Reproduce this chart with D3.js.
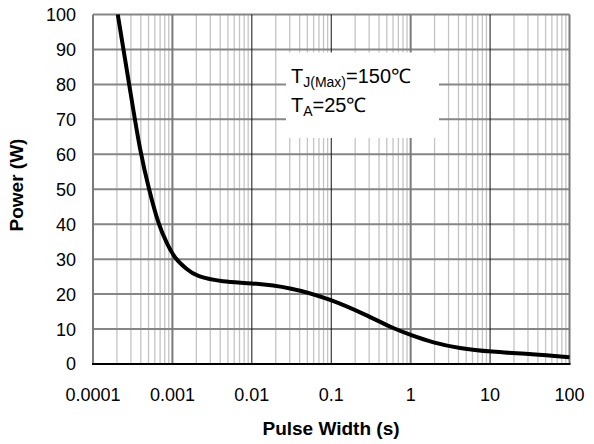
<!DOCTYPE html>
<html><head><meta charset="utf-8">
<script src="https://cdn.jsdelivr.net/npm/d3@7/dist/d3.min.js"></script>
<style>body{margin:0;background:#fff}svg{display:block}text{font-family:"Liberation Sans",Arial,sans-serif}</style>
</head><body><svg id="c" width="594" height="444"></svg>
<script>
const pulseWidth = [0.000205,0.0003,0.00039,0.00051,0.00066,0.00085,0.00107,0.0015,0.002,0.0043,0.0095,0.03,0.1,0.277,0.6,1,1.9,4.1,10,34.7,100];
const power      = [100,77,61,49.7,40.2,34.5,30.2,27.2,25,23.5,23.2,22,18.5,14,10.2,8.3,6.1,4.5,3.5,2.8,1.9];
const xTicks = [0.0001,0.001,0.01,0.1,1,10,100];
const xTickLabels = ["0.0001","0.001","0.01","0.1","1","10","100"];
const yTicks = [0,10,20,30,40,50,60,70,80,90,100];

const svg = d3.select("#c");
const L=93, R=569.5, T=14.5, B=364;
const x = d3.scaleLog().domain([0.0001,100]).range([L,R]);
const y = d3.scaleLinear().domain([0,100]).range([B,T]);

// minor vertical gridlines
const minors=[];
for(let e=-4;e<2;e++) for(let k=2;k<=9;k++) minors.push(k*Math.pow(10,e));
svg.append("g").selectAll("line").data(minors).join("line")
  .attr("x1",d=>x(d)).attr("x2",d=>x(d)).attr("y1",T).attr("y2",B)
  .attr("stroke","#c4c4c4").attr("stroke-width",1.3);
// horizontal gridlines
svg.append("g").selectAll("line").data(yTicks.slice(1)).join("line")
  .attr("x1",L).attr("x2",R).attr("y1",d=>y(d)).attr("y2",d=>y(d))
  .attr("stroke","#868686").attr("stroke-width",2);
// decade lines
const darkDec=[0.01,0.1,10];
svg.append("g").selectAll("line").data(xTicks).join("line")
  .attr("x1",d=>x(d)).attr("x2",d=>x(d)).attr("y1",T).attr("y2",B)
  .attr("stroke",d=>darkDec.includes(d)?"#111":"#7a7a7a")
  .attr("stroke-width",d=>darkDec.includes(d)?1:2);
// bottom axis line
svg.append("line").attr("x1",L-1).attr("x2",R+1).attr("y1",B).attr("y2",B).attr("stroke","#000").attr("stroke-width",2);

// legend box
svg.append("rect").attr("x",286).attr("y",52.5).attr("width",153).attr("height",85.5).attr("fill","#fff");
const lg = svg.append("g");
const t1 = lg.append("text").attr("x",291).attr("y",83).attr("font-size",20);
t1.append("tspan").text("T");
t1.append("tspan").attr("font-size",14).attr("dy",4).text("J(Max)");
t1.append("tspan").attr("dy",-4).text("=150℃");
const t2 = lg.append("text").attr("x",291).attr("y",112).attr("font-size",20);
t2.append("tspan").text("T");
t2.append("tspan").attr("font-size",14).attr("dy",4).text("A");
t2.append("tspan").attr("dy",-4).text("=25℃");

// curve
const line = d3.line().x((d,i)=>x(pulseWidth[i])).y(d=>y(d)).curve(d3.curveBasis);
svg.append("path").datum(power).attr("d",line).attr("fill","none").attr("stroke","#000").attr("stroke-width",4).attr("stroke-linejoin","round");

// tick labels
svg.append("g").selectAll("text").data(yTicks).join("text")
  .attr("x",76).attr("y",d=>y(d)).attr("dy","0.36em").attr("text-anchor","end").attr("font-size",18).text(d=>d);
svg.append("g").selectAll("text").data(xTicks).join("text")
  .attr("x",d=>x(d)).attr("y",400.5).attr("text-anchor","middle").attr("font-size",18).text((d,i)=>xTickLabels[i]);

// titles
svg.append("text").attr("x",331).attr("y",435).attr("text-anchor","middle").attr("font-size",19).attr("font-weight","bold").text("Pulse Width (s)");
svg.append("text").attr("transform","translate(23,185) rotate(-90)").attr("text-anchor","middle").attr("font-size",19).attr("font-weight","bold").text("Power (W)");
</script></body></html>
